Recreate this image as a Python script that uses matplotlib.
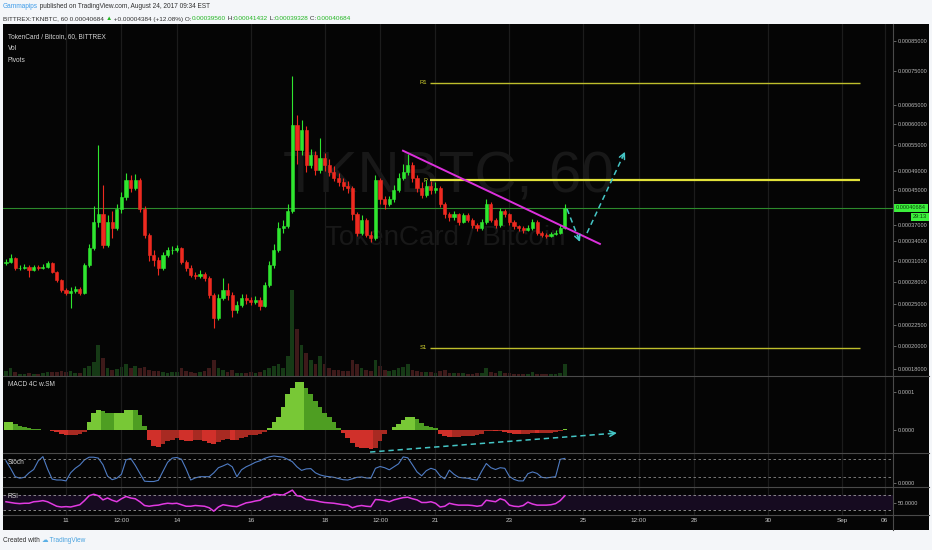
import matplotlib
matplotlib.use('Agg')
import matplotlib.pyplot as plt
import numpy as np
from matplotlib.patches import Rectangle
from matplotlib.lines import Line2D

W, H = 932, 550
plt.rcParams['font.family'] = ['Liberation Sans', 'DejaVu Sans']

# ---- data: 3 hour candles, time = day of August (Sep 1 = 32), prices in satoshi
t_first = 9.375
t_step = 0.125
first_open = 30600
closes = [30820, 31400, 29970, 29970, 30110, 29690, 30110, 29970, 30110, 30680,
          29410, 28280, 26920, 26520, 26790, 27060, 26520, 30390, 32900, 37620,
          39220, 33350, 37620, 36380, 40360, 43100, 47040, 45360, 47040, 40360,
          35070, 31860, 31100, 29970, 31860, 32600, 32600, 32900, 30820, 29970,
          28990, 28850, 29130, 28560, 26250, 23320, 25850, 26920, 26250, 24300,
          24910, 25850, 25580, 25310, 25580, 24790, 27600, 30390, 32600, 36380,
          36760, 39900, 59760, 53780, 58550, 50310, 52620, 49160, 51930, 50310,
          48730, 47460, 46620, 45780, 45360, 39220, 35440, 38070, 35070, 34510,
          47040, 42650, 41500, 42650, 44930, 47460, 48730, 50310, 47460, 45360,
          43790, 45780, 44930, 45360, 41500, 39220, 38530, 39220, 37620, 38990,
          38070, 36940, 36380, 37620, 41500, 38070, 36940, 39900, 39220, 37620,
          36760, 36380, 36010, 36380, 37620, 35440, 35070, 34880, 35260, 35440,
          36380, 40684]
highs = [31200, 32000, 31600, 30400, 30500, 30300, 30400, 30400, 30500, 31000,
         30800, 29500, 28400, 27200, 27300, 27500, 27300, 30600, 33500, 41000,
         54900, 46000, 39000, 40000, 41500, 44500, 48500, 48000, 48200, 47500,
         41000, 35500, 32500, 31500, 32200, 33000, 33200, 33300, 33100, 31100,
         30300, 29400, 29700, 29400, 28800, 26500, 26300, 28500, 27800, 26600,
         25400, 26400, 26300, 26000, 26100, 25900, 28000, 31000, 33500, 37500,
         38000, 41500, 73300, 62300, 61000, 59500, 54000, 53500, 56600, 53000,
         51500, 50000, 48500, 47500, 46800, 45800, 39800, 39000, 38500, 35800,
         48000, 47500, 43500, 43500, 46000, 48500, 50500, 52800, 51000, 48000,
         46500, 47000, 46800, 46500, 45800, 42000, 39800, 40000, 39600, 39600,
         39500, 38500, 37400, 38300, 42600, 41900, 38500, 40600, 40400, 39600,
         37900, 37000, 36800, 36900, 38100, 37900, 35700, 35400, 35600, 35900,
         36900, 41432]
lows = [30300, 30600, 29700, 29600, 29800, 28700, 29500, 29700, 29800, 29900,
        29200, 28000, 26600, 26200, 24500, 26500, 26200, 26400, 30100, 32500,
        36500, 32800, 33000, 34500, 36000, 39500, 42500, 44500, 44800, 39800,
        34500, 31000, 30200, 29000, 29700, 31500, 32000, 32200, 30500, 29500,
        28700, 28400, 28600, 28200, 25800, 22100, 23000, 25500, 25500, 23400,
        23900, 24600, 25100, 24900, 25000, 24300, 24600, 27300, 30000, 32300,
        35500, 36300, 39500, 50500, 52500, 48800, 49500, 48000, 48500, 49000,
        47800, 46800, 45800, 45000, 44200, 38000, 34800, 35000, 34600, 33800,
        34200, 41500, 40500, 41000, 42000, 44500, 47000, 48000, 46500, 44500,
        43000, 43300, 44000, 44300, 40800, 38500, 37800, 38000, 37000, 37300,
        37500, 36400, 35800, 36000, 37200, 37600, 36400, 36600, 38600, 37000,
        36200, 35800, 35500, 35700, 36000, 35000, 34700, 34500, 34600, 35000,
        35200, 36200]
volumes = [1.2, 2.0, 1.0, 0.6, 0.5, 0.8, 0.6, 0.5, 0.7, 1.0, 1.1, 0.9, 1.2, 1.0, 1.4, 0.8, 0.7,
           2.0, 2.5, 3.5, 8.0, 4.5, 2.0, 1.5, 1.8, 2.2, 3.0, 2.0, 2.5, 2.0, 2.2,
           1.5, 1.2, 1.4, 1.0, 0.8, 0.9, 1.0, 2.0, 1.2, 0.9, 0.8, 0.9, 1.2, 2.0, 4.0,
           2.0, 1.5, 1.0, 1.5, 0.8, 0.7, 0.8, 0.9, 0.7, 1.0, 1.5, 2.0, 2.5, 3.0, 2.0, 5.0,
           22.0, 12.0, 8.0, 6.0, 4.0, 3.0, 5.0, 3.0, 2.0, 1.5, 1.5, 1.2, 1.4, 4.0, 3.0, 2.0, 1.5, 1.2, 4.0,
           2.5, 1.5, 1.2, 1.5, 2.0, 2.2, 3.0, 1.5, 1.2, 1.0, 1.0, 0.9, 0.8, 1.2, 1.5, 0.8, 0.7, 0.8, 0.7, 0.6,
           0.6, 0.7, 0.8, 2.0, 1.0, 0.7, 1.2, 0.8, 0.7, 0.6, 0.5, 0.5, 0.6, 1.0, 0.6, 0.5, 0.5, 0.5, 0.6, 0.8, 3.0]
macd_hist = [21, 21, 15, 10, 7, 5, 3, 2, 1, 0,
             -2, -6, -10, -13, -13, -12, -10, -4, 20, 45,
             52, 50, 45, 44, 44, 46, 52, 53, 52, 40,
             10, -25, -42, -45, -38, -30, -25, -22, -25, -28,
             -30, -27, -25, -28, -33, -36, -32, -27, -24, -25,
             -25, -22, -18, -14, -12, -10, -4, 5, 20, 35,
             60, 95, 110, 125, 126, 110, 95, 75, 60, 45,
             35, 20, 5, -8, -20, -35, -45, -47, -48, -50,
             -48, -30, -10, 0, 8, 15, 25, 33, 34, 28,
             18, 10, 8, 5, -10, -17, -19, -18, -18, -17,
             -16, -15, -14, -10, -3, -2, -3, -2, -4, -8,
             -10, -11, -10, -10, -8, -9, -9, -8, -7, -6,
             -3, 2]  # 1e-6 BTC
stoch_k = [75, 50, 22, 17, 20, 35, 46, 75, 89, 48,
           14, 11, 11, 8, 35, 50, 61, 78, 87, 87,
           84, 62, 24, 12, 17, 30, 78, 83, 60, 33,
           7, 6, 6, 10, 40, 70, 84, 86, 80, 48,
           11, 18, 22, 22, 22, 35, 52, 58, 65, 55,
           22, 45, 55, 62, 70, 75, 83, 88, 91, 89,
           87, 80, 72, 55, 43, 48, 49, 35, 28, 24,
           22, 20, 16, 12, 11, 15, 20, 21, 18, 17,
           50, 56, 52, 45, 55, 65, 88, 85, 62, 38,
           25, 42, 50, 45, 25, 15, 44, 30, 20, 18,
           17, 13, 11, 40, 66, 52, 46, 52, 50, 23,
           13, 8, 8, 32, 38, 33, 20, 18, 20, 22,
           80, 83]
rsi = [52, 50, 48, 47, 48, 48, 52, 53, 55, 52,
       46, 40, 38, 39, 38, 41, 44, 55, 68, 72,
       68, 57, 62, 56, 52, 60, 66, 62, 60, 52,
       42, 40, 42, 43, 46, 48, 47, 48, 44, 40,
       40, 42, 41, 40, 36, 27, 38, 44, 42, 40,
       39, 44, 49, 51, 54, 56, 64, 66, 72, 71,
       70, 76, 83, 68, 66, 58, 57, 55, 52, 50,
       49, 48, 46, 44, 43, 36, 40, 42, 40, 39,
       58, 57, 55, 52, 57, 60, 63, 64, 60, 57,
       50, 50, 52, 48, 38, 40, 48, 45, 43, 43,
       43, 42, 40, 42, 56, 54, 52, 60, 56, 43,
       40, 39, 42, 51, 46, 43, 43, 43, 44, 47,
       55, 68]

last_price = 40684
pivot_names = ['R1', 'P', 'S1']
pivot_levels = [71300, 46900, 19850]
pivot_from, pivot_to = 20.85, 32.5
trend_t = [20.12, 25.45]
trend_p = [53550, 33500]
path1_t = [24.56, 24.91]
path1_p = [40400, 33800]
path2_t = [25.1, 26.13]
path2_p = [35400, 53300]
div_t = [19.23, 25.91]
div_v = [-58, -8]

price_ticks = [18000, 20000, 22500, 25000, 28000, 31000, 34000, 37000,
               45000, 49000, 55000, 60000, 65000, 75000, 85000]
time_ticks = [11, 12.5, 14, 16, 18, 19.5, 21, 23, 25, 26.5, 28, 30, 32, 33.16]
time_labels = ['11', '12:00', '14', '16', '18', '12:00', '21', '23', '25', '12:00',
               '28', '30', 'Sep', '06']

# ---- layout helpers (pixel boxes)
def box(x0, y0, x1, y1):
    return [x0 / W, 1 - y1 / H, (x1 - x0) / W, (y1 - y0) / H]

def ftext(x, y, s, **kw):
    return fig.text(x / W, 1 - y / H, s, **kw)

def hline(y, x0=3, x1=929, color='#4a4a4a'):
    fig.add_artist(Line2D([x0 / W, x1 / W], [1 - y / H] * 2, color=color, lw=0.8, zorder=5))

fig = plt.figure(figsize=(W / 100, H / 100), dpi=100, facecolor='#f4f6f9')
fig.add_artist(Rectangle((3 / W, 1 - 530 / H), 926 / W, 506 / H, transform=fig.transFigure,
                         fc='#050505', ec='none', zorder=-2))

# TradingView price axis rows of the labels (non uniform log axis)
tick_rows = [368.7, 346.3, 324.7, 304.3, 282, 260.7, 240.7, 224.7,
             189.7, 170.7, 144.7, 124, 104.7, 70.7, 40.7]
lt = np.log10(np.array(price_ticks, float))
rows = -np.array(tick_rows)
s_lo = (rows[1] - rows[0]) / (lt[1] - lt[0])
s_hi = (rows[-1] - rows[-2]) / (lt[-1] - lt[-2])

def fwd(v):
    lv = np.log10(np.maximum(np.asarray(v, float), 1.0))
    out = np.interp(lv, lt, rows)
    out = np.where(lv < lt[0], rows[0] + (lv - lt[0]) * s_lo, out)
    out = np.where(lv > lt[-1], rows[-1] + (lv - lt[-1]) * s_hi, out)
    return out

def inv(r):
    r = np.asarray(r, float)
    lv = np.interp(r, rows, lt)
    lv = np.where(r < rows[0], lt[0] + (r - rows[0]) / s_lo, lv)
    lv = np.where(r > rows[-1], lt[-1] + (r - rows[-1]) / s_hi, lv)
    return 10 ** lv

ax_vol = fig.add_axes(box(3, 24, 893, 376))
ax = fig.add_axes(box(3, 24, 893, 376), sharex=ax_vol)
ax_macd = fig.add_axes(box(3, 376, 893, 453), sharex=ax_vol)
ax_st = fig.add_axes(box(3, 453, 893, 487), sharex=ax_vol)
ax_rsi = fig.add_axes(box(3, 487, 893, 515), sharex=ax_vol)

for a in (ax_vol, ax, ax_macd, ax_st, ax_rsi):
    a.set_facecolor('none')
    for s in a.spines.values():
        s.set_visible(False)
    a.set_xticks(time_ticks)
    a.grid(axis='x', color='#1c1c1c', lw=0.9)
    a.set_axisbelow(True)
    a.yaxis.tick_right()
    a.tick_params(axis='y', length=2, width=0.6, color='#777777', pad=1.2,
                  labelsize=4.1, labelcolor='#b8b8b8')
    a.tick_params(axis='x', length=0, labelbottom=False)
ax_vol.set_yticks([])
ax_vol.grid(False)
ax.set_xlim(9.295, 33.382)

t = t_first + t_step * np.arange(len(closes))
c = np.array(closes, float)
o = np.concatenate([[first_open], c[:-1]])
up = c >= o
green, red = '#2fe62f', '#ee2a20'
cols = np.where(up, green, red)

# volume
ax_vol.bar(t, volumes, width=0.1, color=np.where(up, '#163a16', '#3e1a1a'))
ax_vol.set_ylim(0, 90)

# candles
ax.set_yscale('function', functions=(fwd, inv))
ax.set_ylim(float(inv(-376)), float(inv(-24)))
ax.vlines(t, lows, highs, colors=cols, lw=0.8, zorder=3)
ax.bar(t, np.abs(c - o), bottom=np.minimum(o, c), width=0.085, color=cols,
       edgecolor=cols, lw=0.4, zorder=4)
ax.set_yticks(price_ticks)
ax.set_yticklabels(['%.8f' % (v * 1e-8) for v in price_ticks])
ax.minorticks_off()

ax.text(0.5, 0.5625, 'TKNBTC, 60', transform=ax.transAxes, ha='center', va='center',
        fontsize=42, color='#181818', zorder=1)
ax.text(0.497, 0.392, 'TokenCard / Bitcoin', transform=ax.transAxes, ha='center', va='center',
        fontsize=20, color='#181818', zorder=1)

ax.axhline(last_price, color='#2c8a2c', lw=0.8, zorder=2)
ax.annotate('0.00040684', xy=(1, last_price), xycoords=('axes fraction', 'data'),
            xytext=(3, 0), textcoords='offset pixels', va='center', ha='left', fontsize=4.1,
            color='#0b3d0b', annotation_clip=False,
            bbox=dict(boxstyle='square,pad=0.3', fc='#3cf03c', ec='none'))
ax.annotate('29:13', xy=(1, last_price), xycoords=('axes fraction', 'data'),
            xytext=(34, -9), textcoords='offset pixels', va='center', ha='right', fontsize=4.1,
            color='#0b3d0b', annotation_clip=False,
            bbox=dict(boxstyle='square,pad=0.3', fc='#3cf03c', ec='none'))

# weekly pivots
for name, lvl in zip(pivot_names, pivot_levels):
    bright = name == 'P'
    ax.hlines(lvl, pivot_from, pivot_to, color='#e2e23a' if bright else '#bebe2c',
              lw=1.6 if bright else 1.0, zorder=3)
    ax.annotate(name, xy=(pivot_from, lvl), xytext=(-3, 0), textcoords='offset pixels',
                ha='right', va='center', fontsize=4.2, color='#d8d830', zorder=5)

# drawings
ax.plot(trend_t, trend_p, color='#dc30dc', lw=1.4, zorder=6)

def dashed_arrow(a, ts, vs, color='#45c6c6'):
    a.plot(ts, vs, color=color, lw=1.1, ls=(0, (3.5, 2.5)), zorder=6)
    p1 = a.transData.transform((ts[-2], vs[-2]))
    p2 = a.transData.transform((ts[-1], vs[-1]))
    d = (p2 - p1) / np.hypot(*(p2 - p1))
    a.annotate('', xy=(ts[-1], vs[-1]), xytext=tuple(-d * 7), textcoords='offset pixels',
               arrowprops=dict(arrowstyle='->', color=color, lw=1.1, shrinkA=0, shrinkB=0),
               zorder=6)

dashed_arrow(ax, path1_t, path1_p)
dashed_arrow(ax, path2_t, path2_p)

# MACD 4C
m = np.array(macd_hist, float)
rising = np.concatenate([[True], m[1:] >= m[:-1]])
mcol = np.where(m >= 0, np.where(rising, '#78c836', '#4e9e22'),
                np.where(rising, '#a82a22', '#d0302a'))
ax_macd.bar(t, m, width=t_step, color=mcol, lw=0)
ax_macd.set_ylim(-60.5, 142)
ax_macd.set_yticks([0, 100])
ax_macd.set_yticklabels(['0.0000', '0.0001'])
dashed_arrow(ax_macd, div_t, div_v)

# Stoch
ax_st.plot(t, stoch_k, color='#4f7cc4', lw=0.8)
for lvl in (80, 20):
    ax_st.axhline(lvl, color='#8a8a8a', lw=0.6, ls=(0, (3, 3)))
ax_st.set_ylim(-12.3, 101)
ax_st.set_yticks([0])
ax_st.set_yticklabels(['0.0000'])

# RSI
ax_rsi.axhspan(30, 70, color='#160b20', lw=0)
for lvl in (70, 30):
    ax_rsi.axhline(lvl, color='#9a9a9a', lw=0.6, ls=(0, (3, 3)))
ax_rsi.plot(t, rsi, color='#e23ae2', lw=1.1)
ax_rsi.set_ylim(16.7, 91.3)
ax_rsi.set_yticks([50])
ax_rsi.set_yticklabels(['50.0000'])
ax_rsi.tick_params(axis='x', labelbottom=True, pad=2.5, labelsize=4.6, labelcolor='#c8c8c8')
ax_rsi.set_xticklabels(time_labels)

# pane separators
for y in (376, 453, 487, 515):
    hline(y)
fig.add_artist(Line2D([893 / W] * 2, [1 - 24 / H, 1 - 530 / H], color='#4a4a4a', lw=0.8, zorder=5))

# pane titles
for y, s in ((37, 'TokenCard / Bitcoin, 60, BITTREX'), (49, 'Vol'), (61, 'Pivots'),
             (385, 'MACD 4C w.SM'), (463, 'Stoch'), (496, 'RSI')):
    ftext(8, y, s, fontsize=4.7, color='#d4d4d4', va='center')

# header / footer
renderer = fig.canvas.get_renderer()

def text_row(y, pieces, x=3, size=4.7):
    for s, col in pieces:
        tx = ftext(x, y, s, color=col, fontsize=size, va='center', ha='left')
        x += tx.get_window_extent(renderer).width

dark, up_green = '#303030', '#22b522'
text_row(7, [('Gammapips', '#3d9be9'),
             (' published on TradingView.com, August 24, 2017 09:34 EST', dark)])
text_row(19, [('BITTREX:TKNBTC, 60 0.00040684 ', dark), ('\u25b2', up_green),
              (' +0.00004384 (+12.08%) O:', dark), ('0.00039560', up_green),
              (' H:', dark), ('0.00041432', up_green), (' L:', dark), ('0.00039328', up_green),
              (' C:', dark), ('0.00040684', up_green)], size=4.6)
text_row(541, [('Created with ', dark), ('\u2601', '#5ab0e6'), (' TradingView', '#4aa3df')])

fig.savefig('out.png', dpi=100, facecolor=fig.get_facecolor())
